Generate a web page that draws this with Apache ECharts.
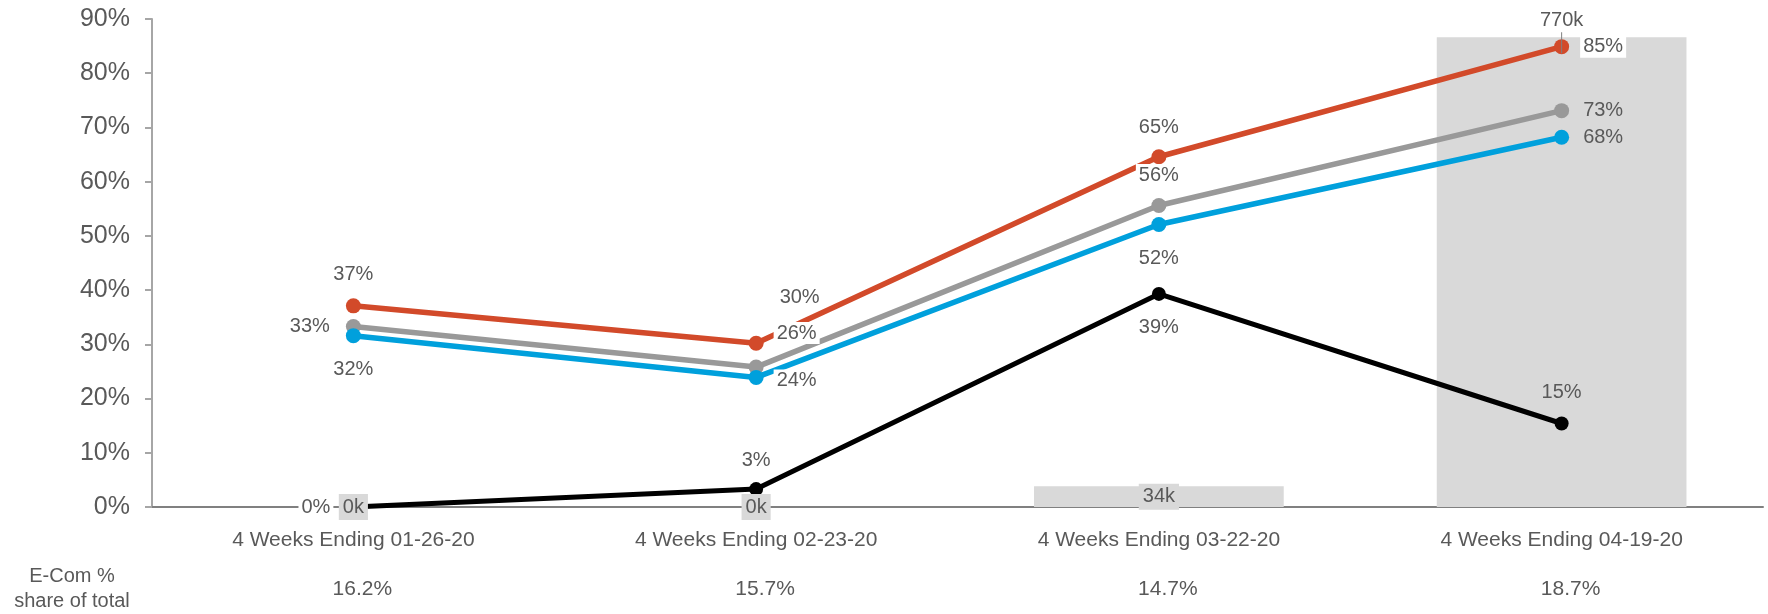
<!DOCTYPE html>
<html>
<head>
<meta charset="utf-8">
<script src="https://cdn.jsdelivr.net/npm/echarts@6/dist/echarts.min.js"></script>
<style>
  html, body { margin: 0; padding: 0; background: #ffffff; }
  #chart { width: 1768px; height: 614px; }
</style>
</head>
<body>
<div id="chart"></div>
<script>
// Periods on the category axis
const categories = [
  '4 Weeks Ending 01-26-20',
  '4 Weeks Ending 02-23-20',
  '4 Weeks Ending 03-22-20',
  '4 Weeks Ending 04-19-20'
];
// E-Com share of total, shown as a row under the axis
const ecomShare = ['16.2%', '15.7%', '14.7%', '18.7%'];
// Volume bars (thousands), secondary axis
const volumeK = [0, 0, 34, 770];
// Line series (percent)
const redValues = [37.1, 30.2, 64.6, 84.9];
const grayValues = [33.3, 25.8, 55.6, 73.1];
const blueValues = [31.6, 23.9, 52.1, 68.2];
const blackValues = [0, 3.3, 39.3, 15.4];
// Primary axis ticks
const yMin = 0, yMax = 90, yStep = 10;
// Secondary axis range (thousands)
const volMax = 800;

const FONT = 'Liberation Sans, Arial, sans-serif';
const TEXT = '#595959';

function pctLabel(cfg) {
  const base = {
    show: true,
    fontFamily: FONT,
    fontSize: 20,
    color: TEXT,
    formatter: p => Math.round(p.value) + '%'
  };
  if (cfg.bg) {
    base.backgroundColor = '#ffffff';
    base.padding = [1, 3];
  }
  return Object.assign(base, cfg.opts);
}

function lineSeries(name, values, color, size, width, placements) {
  return {
    name: name,
    type: 'line',
    yAxisIndex: 0,
    z: 3,
    symbol: 'circle',
    symbolSize: size,
    lineStyle: { color: color, width: width },
    itemStyle: { color: color },
    data: values.map((v, i) => ({ value: v, label: pctLabel(placements[i]) }))
  };
}

const chart = echarts.init(document.getElementById('chart'));

chart.setOption({
  animation: false,
  backgroundColor: '#ffffff',
  grid: { left: 152, right: 5, top: 19, bottom: 107, containLabel: false },
  xAxis: [
    {
      type: 'category',
      data: categories,
      boundaryGap: true,
      axisLine: { show: true, lineStyle: { color: '#808080', width: 2 } },
      axisTick: { show: false },
      axisLabel: { fontFamily: FONT, fontSize: 21, color: TEXT, margin: 23 }
    },
    {
      type: 'category',
      data: categories,
      position: 'bottom',
      boundaryGap: true,
      axisLine: { show: false },
      axisTick: { show: false },
      axisLabel: {
        fontFamily: FONT, fontSize: 21, color: TEXT, margin: 72,
        padding: [0, 0, 0, 18],
        formatter: (v, i) => ecomShare[i]
      }
    }
  ],
  yAxis: [
    {
      type: 'value',
      min: yMin, max: yMax, interval: yStep,
      axisLine: { show: true, lineStyle: { color: '#a6a6a6', width: 2 } },
      axisTick: { show: true, length: 7, lineStyle: { color: '#a6a6a6', width: 2 } },
      splitLine: { show: false },
      axisLabel: { fontFamily: FONT, fontSize: 25, color: TEXT, margin: 22, formatter: '{value}%' }
    },
    {
      type: 'value',
      min: 0, max: volMax,
      show: false,
      splitLine: { show: false }
    }
  ],
  graphic: [
    {
      type: 'text',
      x: 72, y: 589,
      style: {
        text: 'E-Com %\nshare of total',
        fontFamily: FONT, fontSize: 20, fill: TEXT,
        align: 'center', verticalAlign: 'middle', lineHeight: 25
      }
    }
  ],
  series: [
    {
      name: 'Volume',
      type: 'bar',
      xAxisIndex: 0,
      yAxisIndex: 1,
      barWidth: '62%',
      z: 1,
      itemStyle: { color: '#d9d9d9' },
      data: volumeK
    },
    lineSeries('Red', redValues, '#d24a2a', 15, 5.5, [
      { bg: true, opts: { position: 'top', distance: 13 } },
      { bg: true, opts: { position: 'right', distance: 13, offset: [0, -46] } },
      { bg: true, opts: { position: 'top', distance: 11 } },
      { bg: true, opts: { position: 'right', distance: 11 } }
    ]),
    lineSeries('Gray', grayValues, '#999999', 15, 5.5, [
      { bg: true, opts: { position: 'left', distance: 13 } },
      { bg: true, opts: { position: 'right', distance: 10, offset: [0, -34] } },
      { bg: true, opts: { position: 'top', distance: 12 } },
      { bg: false, opts: { position: 'right', distance: 14 } }
    ]),
    lineSeries('Blue', blueValues, '#00a0dc', 15, 5.5, [
      { bg: true, opts: { position: 'bottom', distance: 15 } },
      { bg: true, opts: { position: 'right', distance: 10, offset: [0, 3] } },
      { bg: true, opts: { position: 'bottom', distance: 15 } },
      { bg: false, opts: { position: 'right', distance: 14 } }
    ]),
    lineSeries('Black', blackValues, '#000000', 14, 5, [
      { bg: true, opts: { position: 'left', distance: 13 } },
      { bg: true, opts: { position: 'top', distance: 11 } },
      { bg: true, opts: { position: 'bottom', distance: 16 } },
      { bg: false, opts: { position: 'top', distance: 14 } }
    ]),
    {
      // value tags for the volume bars, kept above the lines
      name: 'Volume labels',
      type: 'bar',
      xAxisIndex: 0,
      yAxisIndex: 1,
      barWidth: '62%',
      barGap: '-100%',
      z: 10,
      silent: true,
      itemStyle: { color: 'rgba(0,0,0,0)' },
      data: volumeK.map((v, i) => ({
        value: v,
        label: i < volumeK.length - 1
          ? {
              show: true, position: 'inside', backgroundColor: '#d9d9d9', padding: [3, 4],
              formatter: p => p.value + 'k'
            }
          : {
              // tag above the tallest bar with a short leader line under it
              show: true, position: 'top', distance: 0, offset: [0, 16],
              formatter: p => '{v|' + p.value + 'k}\n{l| }',
              rich: {
                v: { fontFamily: FONT, fontSize: 20, color: TEXT, lineHeight: 23 },
                l: { width: 1, height: 21, lineHeight: 21, fontSize: 1, backgroundColor: '#7f7f7f' }
              }
            }
      })),
      label: {
        fontFamily: FONT, fontSize: 20, color: TEXT
      }
    }
  ]
});
</script>
</body>
</html>
